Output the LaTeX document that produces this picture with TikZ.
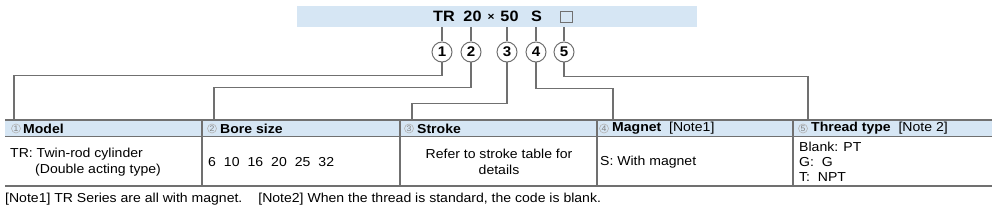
\documentclass[tikz,border=0pt]{standalone}
\usepackage{fontspec}
\setmainfont{Liberation Sans}[FakeStretch=1.08]
\definecolor{bannerblue}{HTML}{D6E6F4}
\definecolor{leadgray}{HTML}{707070}
\tikzset{
  lead/.style={draw=leadgray, line width=1.2pt},
  rule/.style={draw=leadgray, line width=1.6pt},
  num/.style={circle, draw=leadgray, line width=1pt, fill=white, minimum size=20pt,
    inner sep=0pt, font=\fontsize{14}{14}\selectfont\bfseries},
  hnum/.style={circle, draw=gray!60, text=gray, line width=0.6pt, minimum size=9pt,
    inner sep=0pt, font=\fontsize{8}{8}\selectfont},
  head/.style={anchor=west, inner sep=0pt, font=\fontsize{13}{13}\selectfont\bfseries},
  cell/.style={anchor=west, inner sep=0pt, align=left, font=\fontsize{13}{16}\selectfont},
  code/.style={inner sep=0pt, font=\fontsize{15}{15}\selectfont\bfseries},
}
\begin{document}
\begin{tikzpicture}[x=1pt, y=-1pt]
\useasboundingbox (0,0) rectangle (1000,219);
% model code banner
\node[fill=bannerblue, minimum width=400pt, minimum height=21pt, inner sep=0pt] (banner) at (497,16.5) {};
\node[code] (tr) at (444,16.5) {TR};
\node[code] (bore) at (472.5,16.5) {20};
\node[code, font=\fontsize{11}{11}\selectfont\bfseries] (times) at (491,17) {×};
\node[code] (stroke) at (509.5,16.5) {50};
\node[code] (mag) at (536.5,16.5) {S};
\node[draw=leadgray, line width=0.8pt, minimum width=12pt, minimum height=11pt, inner sep=0pt] (thread) at (566,17) {};
% numbered circles
\node[num] (c1) at (442,52) {1};
\node[num] (c2) at (471,52) {2};
\node[num] (c3) at (507,52) {3};
\node[num] (c4) at (536,52) {4};
\node[num] (c5) at (564,52) {5};
\foreach \i in {1,...,5}
  \draw[lead] (c\i.north) -- (c\i.north |- banner.south);
% table
\fill[bannerblue] (5,121) rectangle (992,136);
\draw[rule] (5,120) -- (992,120);
\draw[lead] (5,136.5) -- (992,136.5);
\draw[rule] (5,186) -- (992,186);
\foreach \x in {202,400,597,793}
  \draw[lead] (\x,120) -- (\x,186);
\coordinate (t1) at (14,120);
\coordinate (t2) at (214,120);
\coordinate (t3) at (412,120);
\coordinate (t4) at (613,120);
\coordinate (t5) at (808,120);
% leaders
\draw[lead] (c1.south) -- ++(0,13) -| (t1);
\draw[lead] (c2.south) -- ++(0,25) -| (t2);
\draw[lead] (c3.south) -- ++(0,41) -| (t3);
\draw[lead] (c4.south) -- ++(0,26) -| (t4);
\draw[lead] (c5.south) -- ++(0,14) -| (t5);
% header row
\node[hnum] (h1) at (16,128.5) {1};
\node[head] (model) at (23,128.5) {Model};
\node[hnum] (h2) at (212,128.5) {2};
\node[head] (boresize) at (220,128.5) {Bore size};
\node[hnum] (h3) at (409,128.5) {3};
\node[head] (strokehd) at (417,128.5) {Stroke};
\node[hnum] (h4) at (604,128.5) {4};
\node[head] (magnet) at (612,128.5) {Magnet\ \ \mdseries[Note1]};
\node[hnum] (h5) at (803,128.5) {5};
\node[head] (threadtype) at (811,128.5) {Thread type\ \ \mdseries[Note 2]};
% body row
\node[cell] (modeltxt) at (10,162) {TR: Twin-rod cylinder\\\hspace*{25pt}(Double acting type)};
\node[cell] (boretxt) at (208,162) {6\hspace{8pt}10\hspace{8pt}16\hspace{8pt}20\hspace{8pt}25\hspace{8pt}32};
\node[cell, anchor=center, align=center] (stroketxt) at (499,161.5) {Refer to stroke table for\\details};
\node[cell] (magtxt) at (600,162) {S: With magnet};
\node[cell, font=\fontsize{13}{15}\selectfont] (threadtxt) at (799,162) {Blank: PT\\G:\ \ G\\T:\ \ NPT};
% notes
\node[cell] (notes) at (5,199) {[Note1] TR Series are all with magnet.\hspace{16pt}[Note2] When the thread is standard, the code is blank.};
\end{tikzpicture}
\end{document}
